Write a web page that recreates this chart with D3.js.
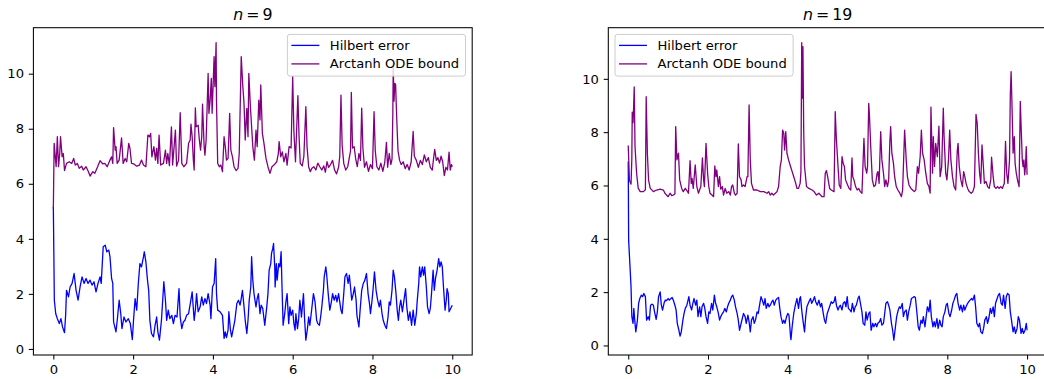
<!DOCTYPE html>
<html>
<head>
<meta charset="utf-8">
<script src="https://cdn.jsdelivr.net/npm/d3@7"></script>
<style>
  body { margin: 0; background: #fff; }
  svg { display: block; font-family: "DejaVu Sans", sans-serif; }
</style>
</head>
<body>
<div class="chart"></div>
<script>
// [t, value]
let hilbert9 = [[0,5.16],[0.025,1.77],[0.06,1.28],[0.1,1.1],[0.15,0.92],[0.19,1.1],[0.23,0.8],[0.28,0.59],[0.31,1.28],[0.33,2.13],[0.38,1.89],[0.42,2.25],[0.47,2.38],[0.52,2.74],[0.57,2.13],[0.62,1.77],[0.67,2.25],[0.72,2.62],[0.77,2.38],[0.82,2.56],[0.87,2.38],[0.92,2.5],[0.97,2.32],[1.02,2.44],[1.07,2.07],[1.12,2.38],[1.17,2.62],[1.2,2.38],[1.25,3.71],[1.3,3.77],[1.34,3.53],[1.39,3.59],[1.42,3.35],[1.46,2.56],[1.49,2.38],[1.51,0.98],[1.57,0.62],[1.61,1.16],[1.65,1.77],[1.69,1.28],[1.72,0.74],[1.77,1.16],[1.82,0.98],[1.88,1.1],[1.93,0.92],[1.98,0.34],[2.01,1.04],[2.05,1.83],[2.09,1.41],[2.13,2.38],[2.17,3.1],[2.21,2.98],[2.26,3.35],[2.28,3.53],[2.32,3.16],[2.36,2.5],[2.39,2.13],[2.42,1.04],[2.46,0.56],[2.51,0.44],[2.55,0.86],[2.59,1.16],[2.62,0.62],[2.66,0.32],[2.71,1.04],[2.77,2.44],[2.81,1.77],[2.84,1.04],[2.88,1.41],[2.92,1.1],[2.97,1.22],[3.01,0.92],[3.05,1.22],[3.1,1.16],[3.15,2.19],[3.18,1.16],[3.22,0.74],[3.26,0.98],[3.3,1.04],[3.34,1.22],[3.39,1.28],[3.44,1.71],[3.48,2.07],[3.53,1.04],[3.56,1.41],[3.59,2.01],[3.63,1.35],[3.68,1.53],[3.72,1.89],[3.76,1.59],[3.8,1.83],[3.84,1.65],[3.88,2.01],[3.93,1.59],[3.95,1.1],[3.99,2.25],[4.03,2.38],[4.07,3.28],[4.09,2.01],[4.12,1.41],[4.18,1.35],[4.24,1.22],[4.28,0.38],[4.31,0.62],[4.34,0.41],[4.38,0.68],[4.4,1.35],[4.44,0.68],[4.47,0.44],[4.51,0.74],[4.55,1.04],[4.6,1.65],[4.64,1.77],[4.68,1.59],[4.71,1.83],[4.74,2.13],[4.78,1.53],[4.81,1.04],[4.85,0.56],[4.88,1.04],[4.91,1.77],[4.95,2.25],[4.97,3.35],[5,2.5],[5.03,2.01],[5.08,1.53],[5.11,1.83],[5.14,2.01],[5.18,1.28],[5.21,1.59],[5.25,1.47],[5.28,1.1],[5.3,0.86],[5.35,1.53],[5.38,2.01],[5.41,2.86],[5.45,3.1],[5.47,3.47],[5.5,3.65],[5.52,3.83],[5.55,2.98],[5.56,2.25],[5.59,3.1],[5.61,2.5],[5.65,3.1],[5.68,2.98],[5.71,3.53],[5.73,2.38],[5.76,0.86],[5.8,1.28],[5.83,1.71],[5.86,2.01],[5.9,0.92],[5.93,1.53],[5.96,1.22],[6,1.41],[6.03,0.92],[6.06,0.68],[6.08,1.28],[6.12,0.74],[6.15,1.1],[6.18,1.77],[6.22,1.16],[6.27,2.01],[6.3,1.04],[6.33,0.32],[6.37,0.74],[6.4,1.16],[6.43,0.86],[6.47,1.35],[6.52,2.01],[6.56,1.71],[6.6,1.04],[6.63,0.92],[6.67,0.86],[6.7,1.16],[6.73,1.53],[6.77,2.13],[6.79,2.62],[6.83,2.98],[6.85,2.74],[6.89,2.01],[6.93,1.41],[6.97,1.71],[7,2.01],[7.04,1.77],[7.08,1.95],[7.11,1.71],[7.15,2.01],[7.18,1.71],[7.21,1.41],[7.24,1.28],[7.28,2.01],[7.31,2.62],[7.35,2.74],[7.39,2.38],[7.42,2.68],[7.45,2.25],[7.48,1.77],[7.52,2.01],[7.55,2.25],[7.59,1.77],[7.61,1.22],[7.66,0.8],[7.69,1.41],[7.73,2.13],[7.77,2.38],[7.81,2.5],[7.85,2.74],[7.89,2.01],[7.93,1.59],[7.95,1.28],[7.99,1.77],[8.02,2.25],[8.05,2.8],[8.09,2.13],[8.13,1.77],[8.17,1.53],[8.2,1.77],[8.24,1.28],[8.27,1.04],[8.31,0.86],[8.35,0.74],[8.39,1.16],[8.42,1.71],[8.45,1.59],[8.49,2.13],[8.52,2.86],[8.55,2.62],[8.59,2.01],[8.62,1.41],[8.65,1.04],[8.68,1.53],[8.71,1.77],[8.75,1.35],[8.79,1.77],[8.83,2.19],[8.86,1.53],[8.9,1.04],[8.94,1.35],[8.98,0.86],[9.02,1.41],[9.06,0.86],[9.1,1.28],[9.12,1.71],[9.16,2.38],[9.18,2.98],[9.21,2.62],[9.25,2.98],[9.28,2.68],[9.31,2.98],[9.35,2.25],[9.38,1.53],[9.42,1.28],[9.45,1.47],[9.48,2.01],[9.52,2.86],[9.55,2.13],[9.58,2.56],[9.62,2.86],[9.66,3.28],[9.69,2.98],[9.72,3.16],[9.75,2.98],[9.78,2.25],[9.82,1.41],[9.85,1.77],[9.87,2.19],[9.9,2.01],[9.92,1.35],[9.96,1.47],[10,1.59]]

let arctanh9 = [[0,5.1],[0.02,7.47],[0.07,6.62],[0.1,7.71],[0.13,6.62],[0.16,7.1],[0.18,7.71],[0.22,6.98],[0.25,7.1],[0.28,6.48],[0.33,6.74],[0.4,6.8],[0.46,6.74],[0.51,6.92],[0.55,6.68],[0.6,6.74],[0.65,6.56],[0.71,6.64],[0.75,6.5],[0.82,6.62],[0.88,6.44],[0.92,6.28],[0.99,6.44],[1.04,6.38],[1.11,6.62],[1.17,6.84],[1.24,6.72],[1.29,6.74],[1.35,6.62],[1.42,6.86],[1.46,6.98],[1.49,6.74],[1.51,8.04],[1.55,7.22],[1.57,7.35],[1.6,6.74],[1.65,6.86],[1.71,7.67],[1.75,6.74],[1.8,6.92],[1.84,6.8],[1.89,7.47],[1.92,7.29],[1.96,6.74],[2.02,6.72],[2.09,6.64],[2.16,6.68],[2.21,6.86],[2.26,6.68],[2.32,6.62],[2.37,7.77],[2.41,7.71],[2.44,7.83],[2.47,6.98],[2.52,7.35],[2.56,6.86],[2.59,7.29],[2.62,6.74],[2.65,7.77],[2.69,6.68],[2.76,6.74],[2.81,7.22],[2.84,6.74],[2.87,7.1],[2.91,6.66],[2.96,8.07],[2.99,6.68],[3.06,7.95],[3.09,6.64],[3.14,6.86],[3.18,8.58],[3.22,6.74],[3.27,6.62],[3.34,6.74],[3.39,7.47],[3.43,7.59],[3.45,8.17],[3.48,7.71],[3.51,6.86],[3.53,6.5],[3.56,8.76],[3.58,8.07],[3.63,8.13],[3.66,7.59],[3.69,7.22],[3.72,7.71],[3.74,8.89],[3.78,7.35],[3.8,7.04],[3.83,7.59],[3.88,10.01],[3.9,8.56],[3.93,9.04],[3.96,9.83],[3.98,8.56],[4.03,10.62],[4.05,9.53],[4.08,11.13],[4.09,9.0],[4.12,6.74],[4.16,6.62],[4.2,6.68],[4.24,6.44],[4.28,7.71],[4.31,7.35],[4.34,6.86],[4.38,6.92],[4.42,8.56],[4.45,7.22],[4.49,6.98],[4.53,6.62],[4.58,6.48],[4.63,6.56],[4.66,7.1],[4.71,10.62],[4.75,9.53],[4.78,8.92],[4.81,7.59],[4.85,8.74],[4.88,7.71],[4.9,10.01],[4.94,8.8],[4.96,8.32],[5,7.35],[5.04,6.86],[5.08,7.95],[5.11,7.35],[5.15,9.04],[5.18,8.32],[5.2,9.59],[5.24,7.83],[5.28,7.47],[5.33,6.92],[5.38,6.62],[5.43,6.38],[5.48,6.62],[5.53,6.68],[5.6,6.8],[5.64,7.1],[5.66,7.53],[5.7,6.98],[5.74,7.16],[5.78,6.8],[5.83,7.1],[5.86,6.68],[5.91,7.35],[5.96,7.3],[6,9.89],[6.03,7.9],[6.07,6.8],[6.13,9.2],[6.16,7.7],[6.19,6.74],[6.24,6.65],[6.28,7.0],[6.33,8.8],[6.36,7.35],[6.4,6.62],[6.44,6.44],[6.48,6.56],[6.53,6.62],[6.58,6.5],[6.63,6.75],[6.68,6.62],[6.73,6.5],[6.78,6.65],[6.82,6.42],[6.86,6.8],[6.9,6.6],[6.95,6.7],[7,6.85],[7.05,6.5],[7.1,6.36],[7.15,6.6],[7.18,7.0],[7.21,9.22],[7.24,7.4],[7.28,6.74],[7.33,6.5],[7.38,6.62],[7.42,6.95],[7.45,7.2],[7.47,9.32],[7.5,7.3],[7.54,7.35],[7.58,6.9],[7.62,6.62],[7.66,7.1],[7.7,6.85],[7.73,8.75],[7.76,7.3],[7.8,6.6],[7.85,6.8],[7.9,6.45],[7.95,6.7],[8,6.55],[8.04,8.62],[8.07,7.2],[8.11,6.62],[8.16,6.5],[8.21,6.75],[8.26,6.45],[8.31,6.8],[8.35,7.5],[8.38,6.6],[8.42,7.1],[8.46,6.7],[8.49,6.9],[8.51,8.5],[8.52,10.25],[8.54,9.0],[8.56,9.65],[8.58,9.6],[8.61,8.3],[8.64,7.2],[8.68,6.85],[8.72,6.7],[8.77,6.8],[8.82,6.55],[8.87,6.7],[8.92,6.5],[8.97,6.8],[9.02,7.9],[9.05,7.0],[9.1,6.85],[9.15,6.6],[9.2,6.85],[9.25,6.7],[9.3,7.05],[9.35,6.8],[9.4,6.95],[9.45,6.6],[9.5,6.5],[9.53,6.9],[9.56,7.25],[9.6,6.85],[9.64,6.95],[9.68,6.75],[9.72,7.0],[9.76,6.8],[9.8,6.3],[9.84,6.6],[9.88,6.5],[9.92,7.15],[9.95,6.5],[9.98,6.7],[10,6.62]]

let hilbert19 = [[0,6.9],[0.01,3.95],[0.04,3.08],[0.07,2.2],[0.09,1.08],[0.12,0.83],[0.14,1.39],[0.17,0.83],[0.19,0.51],[0.23,0.95],[0.26,1.58],[0.29,1.76],[0.33,1.89],[0.36,1.83],[0.39,1.95],[0.43,1.83],[0.46,0.95],[0.5,1.08],[0.53,0.95],[0.56,1.51],[0.6,1.55],[0.63,1.51],[0.66,1.26],[0.7,0.98],[0.73,1.26],[0.76,1.83],[0.8,2.01],[0.83,1.51],[0.86,1.33],[0.9,1.6],[0.93,1.7],[0.96,1.68],[1,1.76],[1.03,1.7],[1.07,1.76],[1.1,1.8],[1.13,1.7],[1.17,1.51],[1.2,1.33],[1.23,0.83],[1.27,0.57],[1.3,0.35],[1.33,0.51],[1.37,0.95],[1.4,1.2],[1.43,1.39],[1.47,1.51],[1.5,1.7],[1.52,1.83],[1.55,1.51],[1.59,1.33],[1.62,1.58],[1.65,1.76],[1.69,1.51],[1.72,1.7],[1.75,1.08],[1.79,1.45],[1.82,1.08],[1.85,1.45],[1.89,1.58],[1.92,1.39],[1.95,1.08],[1.99,0.83],[2.02,1.26],[2.05,1.2],[2.09,1.58],[2.12,1.33],[2.16,1.89],[2.19,1.58],[2.22,1.45],[2.26,1.2],[2.29,0.95],[2.32,1.08],[2.36,1.2],[2.39,1.26],[2.42,1.39],[2.46,1.26],[2.49,1.45],[2.52,1.58],[2.56,1.7],[2.59,1.83],[2.62,1.89],[2.66,1.7],[2.69,1.45],[2.73,1.2],[2.76,0.95],[2.79,0.57],[2.83,0.83],[2.86,1.01],[2.89,1.2],[2.93,1.08],[2.96,0.83],[3,1.14],[3.03,0.89],[3.06,0.51],[3.09,0.95],[3.13,1.08],[3.16,0.83],[3.19,0.95],[3.23,1.26],[3.26,1.2],[3.3,1.58],[3.33,1.83],[3.36,1.7],[3.4,1.51],[3.43,1.76],[3.46,1.39],[3.5,1.58],[3.53,1.45],[3.56,1.51],[3.6,1.64],[3.63,1.7],[3.66,1.51],[3.7,1.7],[3.73,1.76],[3.77,1.8],[3.8,1.39],[3.83,1.08],[3.87,0.83],[3.9,0.95],[3.93,0.83],[3.97,1.08],[4,1.2],[4.03,1.14],[4.07,0.32],[4.08,0.22],[4.11,0.7],[4.15,1.2],[4.19,1.51],[4.23,1.76],[4.27,1.39],[4.3,1.76],[4.32,1.83],[4.35,1.33],[4.38,0.95],[4.42,0.51],[4.45,1.08],[4.48,1.45],[4.53,1.64],[4.57,1.76],[4.6,1.58],[4.64,1.7],[4.67,1.83],[4.7,1.64],[4.74,1.51],[4.78,1.7],[4.82,1.45],[4.85,1.58],[4.89,1.2],[4.92,0.95],[4.95,0.83],[4.99,1.2],[5.02,1.33],[5.06,1.51],[5.09,1.64],[5.12,1.58],[5.16,1.64],[5.19,1.83],[5.22,1.51],[5.26,1.33],[5.29,1.45],[5.32,1.51],[5.36,1.33],[5.39,1.58],[5.43,1.64],[5.46,1.45],[5.49,1.83],[5.52,1.39],[5.56,1.33],[5.59,1.26],[5.62,1.58],[5.66,1.26],[5.69,1.45],[5.72,1.51],[5.76,1.76],[5.79,1.85],[5.83,1.51],[5.86,1.26],[5.89,0.83],[5.93,0.76],[5.96,1.26],[5.99,0.95],[6.03,1.2],[6.06,1.26],[6.09,0.57],[6.13,0.83],[6.16,0.7],[6.2,0.83],[6.23,0.7],[6.26,0.83],[6.3,0.89],[6.33,1.01],[6.36,0.76],[6.4,0.83],[6.43,1.2],[6.46,1.58],[6.5,1.64],[6.53,1.51],[6.56,1.33],[6.6,0.83],[6.63,0.57],[6.66,0.2],[6.7,0.7],[6.73,1.08],[6.77,1.33],[6.8,1.45],[6.83,1.39],[6.87,1.58],[6.9,1.08],[6.93,1.26],[6.97,1.33],[7,0.95],[7.03,1.26],[7.07,1.51],[7.1,1.76],[7.14,1.8],[7.17,1.83],[7.2,1.8],[7.24,1.2],[7.27,0.7],[7.3,0.57],[7.34,0.95],[7.37,0.83],[7.4,1.08],[7.44,0.7],[7.47,1.08],[7.5,1.45],[7.54,1.26],[7.57,1.7],[7.6,1.08],[7.64,0.7],[7.67,0.89],[7.7,0.7],[7.74,1.01],[7.77,0.64],[7.81,0.95],[7.84,0.76],[7.87,0.7],[7.9,1.08],[7.94,1.26],[7.97,1.51],[8,1.58],[8.04,1.2],[8.07,1.08],[8.11,1.33],[8.14,1.58],[8.17,1.7],[8.21,1.89],[8.24,1.95],[8.27,1.58],[8.31,1.33],[8.34,1.51],[8.38,1.26],[8.41,1.51],[8.44,1.33],[8.47,1.45],[8.51,1.58],[8.54,1.64],[8.57,1.7],[8.61,1.76],[8.64,1.7],[8.68,1.89],[8.71,1.45],[8.74,0.83],[8.78,0.7],[8.81,0.83],[8.84,0.51],[8.88,0.45],[8.91,0.64],[8.94,0.95],[8.98,1.08],[9.01,0.83],[9.04,1.01],[9.08,1.39],[9.11,1.2],[9.15,1.45],[9.18,1.08],[9.21,1.58],[9.25,1.76],[9.28,1.89],[9.31,1.95],[9.35,1.58],[9.38,1.51],[9.41,1.89],[9.45,1.39],[9.48,1.83],[9.51,1.95],[9.55,1.89],[9.58,1.26],[9.61,0.95],[9.65,0.51],[9.68,0.7],[9.71,0.45],[9.75,0.64],[9.78,1.08],[9.81,0.95],[9.85,0.45],[9.88,0.64],[9.91,0.45],[9.95,0.57],[9.98,0.83],[10,0.57]]

let arctanh19 = [[0,7.5],[0.03,6.2],[0.07,6.05],[0.09,7.0],[0.1,8.75],[0.12,8.35],[0.13,8.7],[0.15,9.7],[0.17,7.45],[0.21,6.45],[0.25,5.9],[0.3,5.77],[0.38,5.77],[0.43,5.84],[0.45,9.33],[0.48,7.2],[0.51,6.2],[0.55,5.9],[0.63,5.77],[0.71,5.83],[0.8,5.86],[0.88,5.83],[0.92,5.71],[0.96,5.64],[1,5.58],[1.05,5.71],[1.09,5.62],[1.13,5.64],[1.17,5.68],[1.19,8.21],[1.22,6.96],[1.26,7.21],[1.29,6.21],[1.34,5.89],[1.38,5.77],[1.43,5.89],[1.47,5.81],[1.51,5.71],[1.55,6.93],[1.58,6.08],[1.6,6.27],[1.63,5.89],[1.68,6.77],[1.72,5.96],[1.76,5.71],[1.82,5.96],[1.86,7.03],[1.89,6.21],[1.91,5.96],[1.95,7.58],[1.99,6.46],[2.02,5.96],[2.05,5.71],[2.1,5.64],[2.14,5.58],[2.17,6.73],[2.2,6.33],[2.22,6.58],[2.26,5.96],[2.29,6.33],[2.32,5.86],[2.36,5.96],[2.39,5.64],[2.43,5.89],[2.47,5.71],[2.52,5.77],[2.56,5.64],[2.59,5.96],[2.62,6.02],[2.66,5.71],[2.69,5.64],[2.73,5.71],[2.76,7.56],[2.79,6.33],[2.83,6.21],[2.85,5.96],[2.89,6.02],[2.93,5.96],[2.98,6.33],[3,6.33],[3.03,9.02],[3.06,6.96],[3.09,6.08],[3.14,5.83],[3.23,5.83],[3.31,5.77],[3.4,5.77],[3.48,5.71],[3.52,5.77],[3.56,5.64],[3.6,5.71],[3.64,5.64],[3.69,5.71],[3.73,5.77],[3.77,5.96],[3.81,6.71],[3.84,6.96],[3.87,8.08],[3.9,7.96],[3.92,7.33],[3.95,8.02],[3.98,7.21],[4.02,6.96],[4.07,6.71],[4.11,6.52],[4.15,6.33],[4.2,6.08],[4.23,5.89],[4.27,5.89],[4.31,6.08],[4.33,6.5],[4.35,11.36],[4.36,9.27],[4.38,11.21],[4.4,8.0],[4.42,6.71],[4.47,5.96],[4.53,5.89],[4.61,5.83],[4.66,5.77],[4.72,5.64],[4.78,5.71],[4.82,5.64],[4.86,5.58],[4.91,5.58],[4.94,6.46],[4.97,6.56],[5,6.33],[5.05,5.89],[5.09,5.83],[5.16,5.77],[5.19,8.77],[5.22,7.71],[5.26,6.71],[5.29,6.02],[5.33,5.89],[5.36,7.08],[5.39,6.83],[5.42,6.71],[5.45,6.21],[5.5,6.02],[5.54,5.89],[5.58,5.83],[5.61,7.03],[5.63,6.33],[5.66,6.21],[5.7,5.96],[5.74,5.83],[5.78,5.89],[5.82,5.77],[5.86,5.71],[5.91,7.77],[5.94,6.71],[5.98,6.46],[6,6.71],[6.03,9.08],[6.05,8.58],[6.08,7.46],[6.12,6.21],[6.16,5.96],[6.2,6.02],[6.24,6.46],[6.26,6.52],[6.29,6.08],[6.33,8.02],[6.36,6.96],[6.4,6.46],[6.43,5.96],[6.46,6.21],[6.5,5.96],[6.53,6.21],[6.56,7.65],[6.58,8.21],[6.61,7.21],[6.65,6.83],[6.68,6.33],[6.72,5.96],[6.76,5.83],[6.81,5.71],[6.85,5.58],[6.88,5.83],[6.93,8.08],[6.97,6.96],[7,6.33],[7.04,6.02],[7.09,5.89],[7.13,5.83],[7.17,5.77],[7.21,5.83],[7.25,6.71],[7.28,6.46],[7.32,7.08],[7.35,8.08],[7.38,7.21],[7.42,6.96],[7.46,6.46],[7.5,6.08],[7.54,5.96],[7.57,5.71],[7.59,8.94],[7.63,6.46],[7.65,7.83],[7.68,6.71],[7.71,7.58],[7.75,7.08],[7.79,8.23],[7.82,6.33],[7.86,6.71],[7.9,8.9],[7.92,7.83],[7.96,6.46],[7.99,6.21],[8.03,6.96],[8.06,8.08],[8.09,6.96],[8.13,6.33],[8.17,5.96],[8.21,5.83],[8.25,7.3],[8.27,7.58],[8.3,6.71],[8.34,6.21],[8.38,5.96],[8.41,6.52],[8.44,6.33],[8.47,6.08],[8.51,5.89],[8.55,5.77],[8.6,5.71],[8.64,5.77],[8.68,5.96],[8.72,8.67],[8.75,8.33],[8.78,7.21],[8.81,6.46],[8.84,6.08],[8.87,7.52],[8.91,6.58],[8.93,6.08],[8.97,6.15],[9.01,5.96],[9.05,5.89],[9.09,6.21],[9.11,7.06],[9.15,6.33],[9.18,5.96],[9.22,5.89],[9.26,5.96],[9.3,5.89],[9.34,5.96],[9.38,5.89],[9.43,6.08],[9.46,7.65],[9.49,6.46],[9.52,6.08],[9.56,6.96],[9.58,9.4],[9.6,10.27],[9.62,9.15],[9.65,7.21],[9.68,7.83],[9.7,6.83],[9.73,6.46],[9.76,6.21],[9.8,5.96],[9.83,9.15],[9.86,7.83],[9.88,6.96],[9.9,6.71],[9.92,6.96],[9.94,6.4],[9.96,6.71],[9.98,7.46],[10,6.4]]

let xTicks = [0, 2, 4, 6, 8, 10]
let yTicks = [0, 2, 4, 6, 8, 10]
let seriesNames = ["Hilbert error", "Arctanh ODE bound"]
let colors = ["blue", "purple"]

let width = 1044
let height = 379
let axTop = 27.7
let axBottom = 355
let fs = 13.1

let panels = [
  { n: 9, left: 33.4, right: 472.2, legend: "right", series: [hilbert9, arctanh9] },
  { n: 19, left: 608.3, right: 1047, legend: "left", series: [hilbert19, arctanh19] }
]

let svg = d3.select(".chart")
  .append("svg")
  .attr("width", width)
  .attr("height", height)

svg.append("rect").attr("width", width).attr("height", height).attr("fill", "#fff")

panels.forEach((p, pi) => {
  let all = p.series.flat().map(d => d[1])
  let lo = d3.min(all), hi = d3.max(all)
  let pad = (hi - lo) * 0.05

  let x = d3.scaleLinear().domain([-0.5, 10.5]).range([p.left, p.right])
  let y = d3.scaleLinear().domain([lo - pad, hi + pad]).range([axBottom, axTop])

  let g = svg.append("g")

  g.append("clipPath").attr("id", "clip" + pi)
    .append("rect")
    .attr("x", p.left).attr("y", axTop)
    .attr("width", p.right - p.left).attr("height", axBottom - axTop)

  let line = d3.line().x(d => x(d[0])).y(d => y(d[1]))

  p.series.forEach((s, i) => {
    g.append("path")
      .datum(s)
      .attr("clip-path", `url(#clip${pi})`)
      .attr("d", line)
      .attr("fill", "none")
      .attr("stroke", colors[i])
      .attr("stroke-width", 1.3)
      .attr("stroke-linejoin", "round")
  })

  // frame
  g.append("rect")
    .attr("x", p.left).attr("y", axTop)
    .attr("width", p.right - p.left).attr("height", axBottom - axTop)
    .attr("fill", "none")
    .attr("stroke", "#000")
    .attr("stroke-width", 1.05)

  let xAxis = g.append("g")
    .attr("transform", `translate(0,${axBottom})`)
    .call(d3.axisBottom(x).tickValues(xTicks).tickSize(4.6).tickPadding(4.6).tickFormat(d3.format("d")))
  let yAxis = g.append("g")
    .attr("transform", `translate(${p.left},0)`)
    .call(d3.axisLeft(y).tickValues(yTicks).tickSize(4.6).tickPadding(4.8).tickFormat(d3.format("d")))

  ;[xAxis, yAxis].forEach(a => {
    a.select(".domain").remove()
    a.attr("font-size", fs).attr("font-family", "DejaVu Sans, sans-serif")
    a.selectAll("line").attr("stroke", "#000").attr("stroke-width", 1.05)
    a.selectAll("text").attr("fill", "#000")
  })

  // title, mathtext style: italic n
  let title = g.append("text")
    .attr("x", (p.left + p.right) / 2)
    .attr("y", 20)
    .attr("text-anchor", "middle")
    .attr("font-size", 15.8)
    .attr("fill", "#000")
  title.append("tspan").attr("font-style", "italic").text("n")
  title.append("tspan").attr("dx", 3).text("=")
  title.append("tspan").attr("dx", 3).text(p.n)

  // legend
  let lg = g.append("g")
  let box = lg.append("rect")
  let texts = seriesNames.map((name, i) => {
    lg.append("line")
      .attr("x1", 4).attr("x2", 32)
      .attr("y1", 11 + i * 18.5).attr("y2", 11 + i * 18.5)
      .attr("stroke", colors[i]).attr("stroke-width", 1.3)
    return lg.append("text")
      .attr("x", 42.5).attr("y", 11 + i * 18.5)
      .attr("dy", "0.35em")
      .attr("font-size", fs)
      .attr("fill", "#000")
      .text(name)
  })
  let tw = d3.max(texts, t => t.node().getComputedTextLength())
  let bw = 42.5 + tw + 6.4
  let bh = 41.7
  box.attr("width", bw).attr("height", bh)
    .attr("rx", 2.6)
    .attr("fill", "#fff").attr("fill-opacity", 0.8)
    .attr("stroke", "#ccc").attr("stroke-width", 1)
  let lx = p.legend === "right" ? p.right - 6.7 - bw : p.left + 6.7
  lg.attr("transform", `translate(${lx},${axTop + 6.7})`)
})
</script>
</body>
</html>
